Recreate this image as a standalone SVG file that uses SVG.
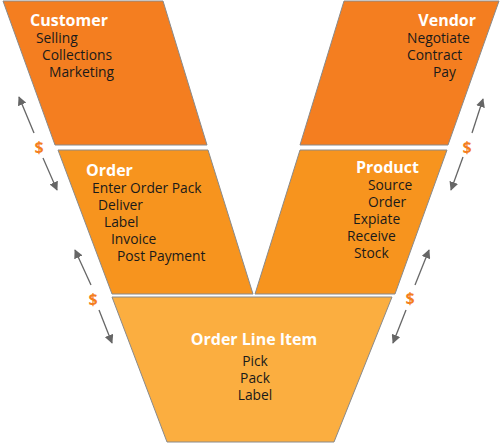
<svg xmlns="http://www.w3.org/2000/svg" width="502" height="443" viewBox="0 0 502 443">
<defs>
<style>
.shape{stroke:#8a8a8a;stroke-width:1}
.c1{fill:#F47E20}
.c2{fill:#F7941E}
.c3{fill:#FBAE40}
.title{font-family:"Open Sans",sans-serif;font-weight:bold;font-size:16px;fill:#ffffff}
.item{font-family:"Open Sans",sans-serif;font-size:13.8px;fill:#1a1a1a}
.dollar{font-family:"Open Sans",sans-serif;font-weight:bold;font-size:16px;fill:#F47E20;text-anchor:middle}
.conn{stroke:#666666;stroke-width:1.3;fill:none;marker-end:url(#ah)}
</style>
<marker id="ah" viewBox="0 0 10 10" refX="9" refY="5" markerWidth="9" markerHeight="9" markerUnits="userSpaceOnUse" orient="auto">
<path d="M0,0 L10,5 L0,10 Z" fill="#666666"/>
</marker>
</defs>
<rect width="502" height="443" fill="#ffffff"/>
<g id="customer">
<polygon class="shape c1" points="3,1 163,1 207,145 55,145"/>
<text class="title" x="30" y="26">Customer</text>
<text class="item" x="36" y="43">Selling</text>
<text class="item" x="42" y="60">Collections</text>
<text class="item" x="49" y="77">Marketing</text>
</g>
<g id="vendor">
<polygon class="shape c1" points="344,1 499,1 448,145 300,145"/>
<text class="title" x="476" y="26" text-anchor="end">Vendor</text>
<text class="item" x="407" y="43">Negotiate</text>
<text class="item" x="407" y="60">Contract</text>
<text class="item" x="433" y="77">Pay</text>
</g>
<g id="order">
<polygon class="shape c2" points="58,150 208,150 253,294 112,294"/>
<text class="title" x="86" y="176">Order</text>
<text class="item" x="92" y="193">Enter Order Pack</text>
<text class="item" x="98" y="210">Deliver</text>
<text class="item" x="104" y="227">Label</text>
<text class="item" x="111" y="244">Invoice</text>
<text class="item" x="117" y="261">Post Payment</text>
</g>
<g id="product">
<polygon class="shape c2" points="300,150 447,150 395,294 255,294"/>
<text class="title" x="356" y="173">Product</text>
<text class="item" x="368" y="190">Source</text>
<text class="item" x="368" y="207">Order</text>
<text class="item" x="353" y="224">Expiate</text>
<text class="item" x="347" y="241">Receive</text>
<text class="item" x="354" y="258">Stock</text>
</g>
<g id="order-line-item">
<polygon class="shape c3" points="112,297 392,297 334,442 167,442"/>
<text class="title" x="254" y="345" text-anchor="middle">Order Line Item</text>
<text class="item" x="255" y="366" text-anchor="middle">Pick</text>
<text class="item" x="255" y="383" text-anchor="middle">Pack</text>
<text class="item" x="255" y="400" text-anchor="middle">Label</text>
</g>
<g id="connectors">
<line class="conn" x1="34" y1="133" x2="19" y2="97"/>
<line class="conn" x1="43" y1="158" x2="57" y2="190"/>
<text class="dollar" x="39" y="153">$</text>
<line class="conn" x1="472" y1="133" x2="483" y2="99"/>
<line class="conn" x1="463" y1="157" x2="451" y2="190"/>
<text class="dollar" x="467" y="153">$</text>
<line class="conn" x1="91" y1="285" x2="75" y2="250"/>
<line class="conn" x1="99" y1="310" x2="112" y2="343"/>
<text class="dollar" x="93" y="305">$</text>
<line class="conn" x1="415" y1="285" x2="429" y2="250"/>
<line class="conn" x1="406" y1="310" x2="393" y2="343"/>
<text class="dollar" x="410" y="304">$</text>
</g>
</svg>
